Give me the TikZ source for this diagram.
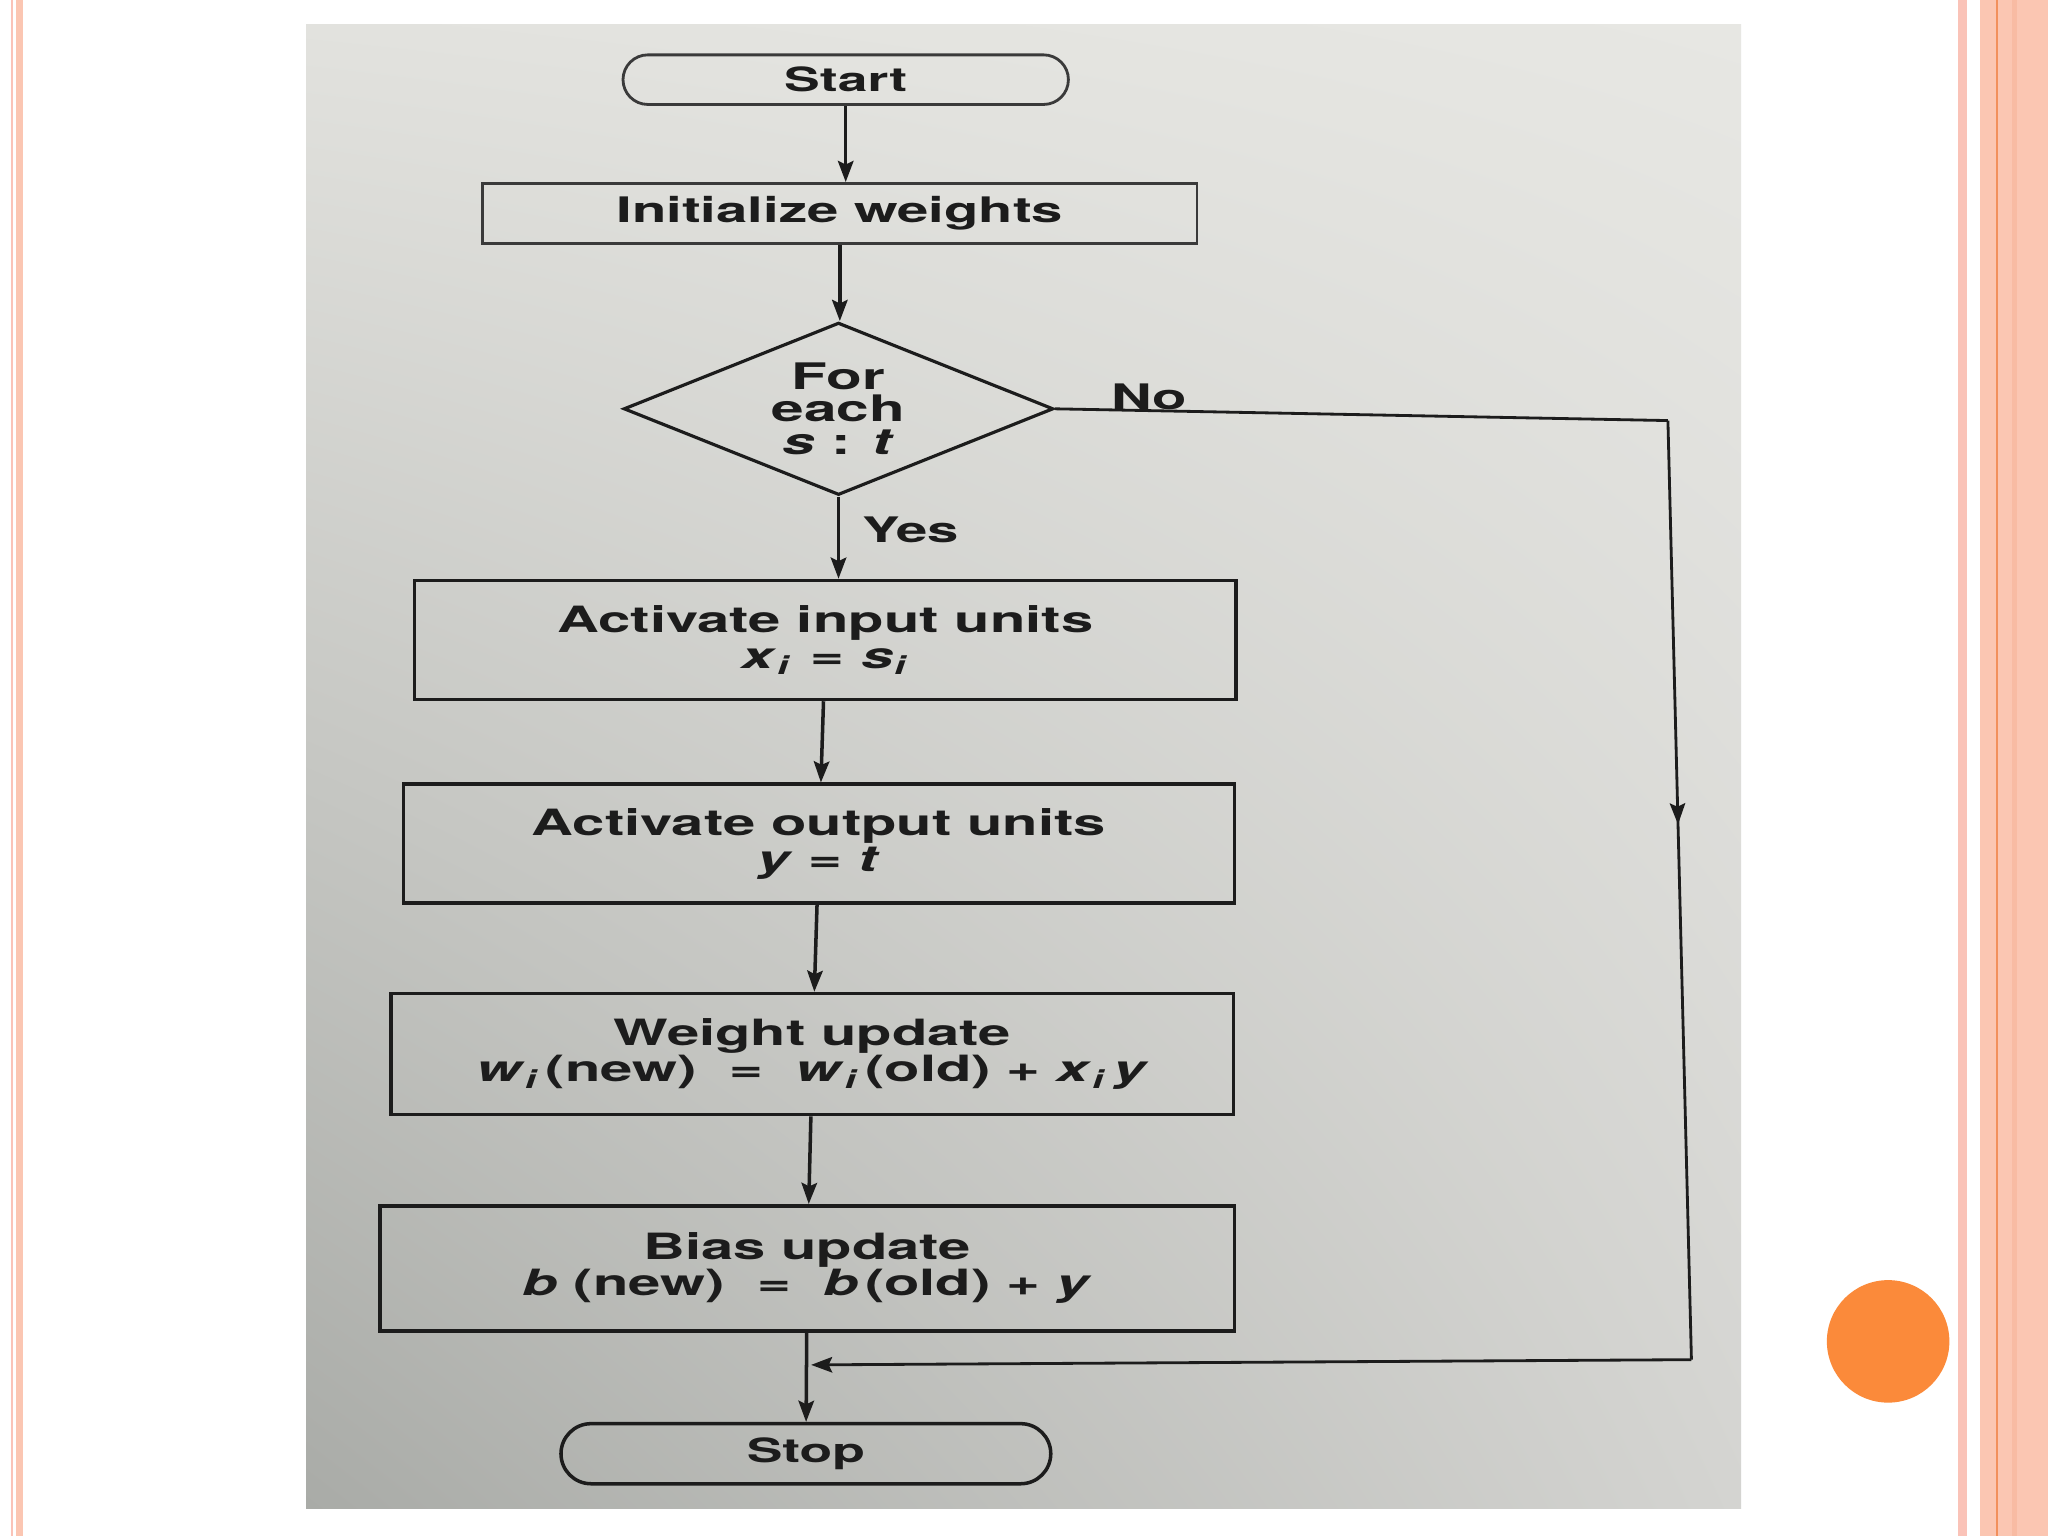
\documentclass[tikz,border=0pt]{standalone}
\usepackage{fontspec}
\setmainfont{TeX Gyre Heros}[FakeStretch=1.6]
\usetikzlibrary{shapes.geometric,shapes.misc,arrows.meta,decorations.markings,calc,shadings}
\definecolor{ink}{HTML}{1C1C1C}
\definecolor{thinink}{HTML}{3A3A3A}
\definecolor{salmon}{HTML}{FBC6B2}
\definecolor{palesalmon}{HTML}{FAC3B8}
\definecolor{orangeline}{HTML}{F2905C}
\definecolor{darksalmon}{HTML}{F8BBA3}
\definecolor{dot}{HTML}{FB8A3A}
\definecolor{paperUL}{HTML}{E2E2DE}
\definecolor{paperUR}{HTML}{E7E7E3}
\definecolor{paperLL}{HTML}{A9ABA7}
\definecolor{paperLR}{HTML}{D4D4D1}
\tikzset{
  box/.style={rectangle, draw=ink, line width=1pt, inner sep=0pt, align=center,
    text=ink, font=\bfseries\fontsize{10.3}{10.3}\selectfont},
  term/.style={rounded rectangle, draw=thinink, line width=0.8pt, inner sep=0pt,
    text=ink, font=\bfseries\fontsize{9.5}{9.5}\selectfont},
  decide/.style={diamond, aspect=2.5, draw=ink, line width=0.9pt, inner sep=0pt, align=center,
    text=ink, font=\bfseries\fontsize{10.4}{9.2}\selectfont},
  lbl/.style={text=ink, font=\bfseries\fontsize{10}{10}\selectfont, inner sep=0pt},
  arr/.style={draw=ink, line width=1pt, -{Stealth[length=6pt,width=4.4pt,inset=1pt]}},
  flow/.style={draw=ink, line width=0.8pt},
  midarrow/.style={decoration={markings, mark=at position #1 with {\arrow{Stealth[length=6pt,width=4.4pt,inset=1pt]}}}, postaction={decorate}}
}
\newcommand{\sub}[1]{\textsubscript{\textit{#1}}}
\newcommand{\wideeq}{\hspace{0.9em}=\hspace{0.9em}}
\newcommand{\midEq}{\hspace{0.5em}=\hspace{0.5em}}
\begin{document}
\begin{tikzpicture}[x=0.0130612cm, y=-0.0130612cm]
\useasboundingbox (0,0) rectangle (1568,1176);
\fill[white] (0,0) rectangle (1568,1176);
% slide decorations
\fill[palesalmon] (8.4,0) rectangle (10.2,1176);
\fill[salmon] (12.3,0) rectangle (17.6,1176);
\fill[palesalmon] (1499,0) rectangle (1506,1176);
\fill[salmon] (1516,0) rectangle (1568,1176);
\fill[darksalmon] (1540.5,0) rectangle (1544.5,1176);
\fill[orangeline] (1528.5,0) rectangle (1530,1176);
\fill[dot] (1445.6,1027) circle (46.9);
% photo background
\shade[upper left=paperUL, upper right=paperUR, lower left=paperLL, lower right=paperLR]
  (234.3,19.1) rectangle (1333,1155);
% nodes
\node[term, minimum width=4.454cm, minimum height=0.496cm] (start) at (647.5,61) {Start};
\node[box, draw=thinink, line width=0.8pt, font=\bfseries\fontsize{10}{10}\selectfont,
  minimum width=7.144cm, minimum height=0.601cm] (init) at (643,163.5) {Initialize weights};
\node[decide, minimum width=4.297cm, minimum height=1.724cm] (dec) at (642,313)
  {For\\each\\\textit{s} : \textit{t}};
\node[box, minimum width=8.215cm, minimum height=1.19cm] (inp) at (632,490)
  {Activate input units\\\textit{x}\sub{i}\midEq\textit{s}\sub{i}};
\node[box, minimum width=8.307cm, minimum height=1.19cm] (outp) at (627,646)
  {Activate output units\\\textit{y} = \textit{t}};
\node[box, minimum width=8.424cm, minimum height=1.21cm] (wup) at (622,807)
  {Weight update\\\textit{w}\sub{i}\,(new)\wideeq\textit{w}\sub{i}\,(old) + \textit{x}\sub{i}\,\textit{y}};
\node[box, minimum width=8.542cm, minimum height=1.25cm] (bup) at (618,971)
  {Bias update\\\textit{b} (new)\wideeq\textit{b}\,(old) + \textit{y}};
\node[term, line width=1pt, draw=ink, minimum width=4.898cm, minimum height=0.601cm] (stop) at (617,1113) {Stop};
% labels
\node[lbl] (no) at (880,304) {No};
\node[lbl] (yes) at (697,406) {Yes};
% connectors
\draw[arr] (start.south) -- (start.south |- init.north);
\draw[arr] (init.south) -- (init.south |- dec.north);
\draw[arr] (dec.south) -- (dec.south |- inp.north);
\draw[arr] (inp) -- (outp);
\draw[arr] (outp) -- (wup);
\draw[arr] (wup) -- (bup);
\draw[arr] (bup) -- (stop);
\coordinate (c1) at (1277,322);
\coordinate (c2) at (1295,1041);
\coordinate (j) at (621,1045);
\draw[flow] (dec.east) -- (c1);
\draw[flow, midarrow=0.43] (c1) -- (c2);
\draw[flow, -{Stealth[length=6pt,width=4.4pt,inset=1pt]}] (c2) -- (j);
\end{tikzpicture}
\end{document}
